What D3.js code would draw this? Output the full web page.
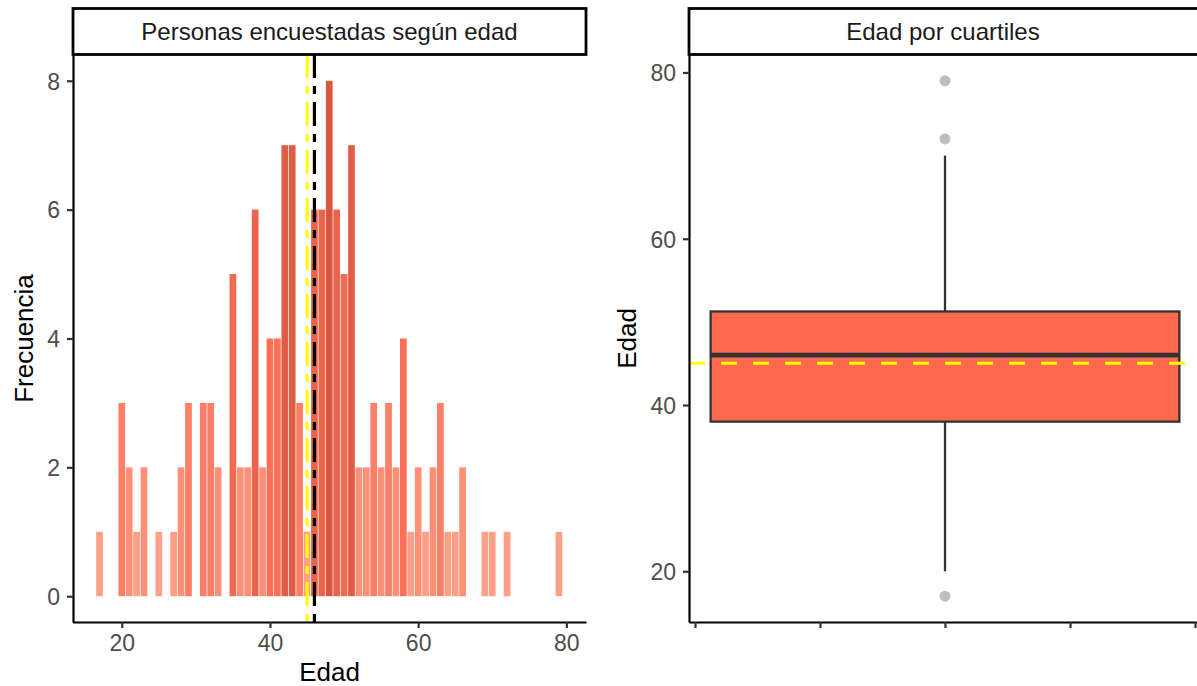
<!DOCTYPE html>
<html>
<head>
<meta charset="utf-8">
<script src="https://cdn.jsdelivr.net/npm/d3@7"></script>
<style>
  html, body { margin: 0; padding: 0; background: #ffffff; }
  svg { display: block; font-family: "Liberation Sans", Arial, Helvetica, sans-serif; }
</style>
</head>
<body>
<svg id="chart" width="1197" height="686"></svg>
<script>
// ---- data ----
const ages   = [17,20,21,22,23,25,27,28,29,31,32,33,35,36,37,38,39,40,41,42,43,44,45,46,47,48,49,50,51,52,53,54,55,56,57,58,59,60,61,62,63,64,65,66,69,70,72,79];
const counts = [1,3,2,1,2,1,1,2,3,3,3,2,5,2,2,6,2,4,4,7,7,3,1,6,6,8,6,5,7,2,2,3,2,3,2,4,1,2,1,2,3,1,1,2,1,1,1,1];
const histXTicks = [20, 40, 60, 80];
const histYTicks = [0, 2, 4, 6, 8];
const boxYTicks  = [20, 40, 60, 80];
const boxXTicks  = [-0.4, -0.2, 0, 0.2, 0.4];
const stripLeft  = "Personas encuestadas según edad";
const stripRight = "Edad por cuartiles";
const titleHistX = "Edad";
const titleHistY = "Frecuencia";
const titleBoxY  = "Edad";

// individual observations reconstructed from the frequency table
const obs = [];
ages.forEach((a, i) => { for (let k = 0; k < counts[i]; k++) obs.push(a); });
obs.sort(d3.ascending);
const mean = d3.mean(obs);
const median = d3.quantile(obs, 0.5);
const q1 = d3.quantile(obs, 0.25);
const q3 = d3.quantile(obs, 0.75);
const iqr = q3 - q1;
const loFence = q1 - 1.5 * iqr, hiFence = q3 + 1.5 * iqr;
const whiskLo = d3.min(obs.filter(v => v >= loFence));
const whiskHi = d3.max(obs.filter(v => v <= hiFence));
const outliers = Array.from(new Set(obs.filter(v => v < loFence || v > hiFence)));

const svg = d3.select("#chart");
const tickFont = 23, titleFont = 26, stripFont = 24;
const tickColor = "#4D4D4D";

// ---- LEFT PANEL: histogram ----
const P1 = { x0: 73, x1: 586, y0: 55, y1: 622 };
const x1 = d3.scaleLinear().domain([13.35, 82.65]).range([P1.x0 - 0.5, P1.x1]);
const y1 = d3.scaleLinear().domain([-0.4, 8.4]).range([P1.y1, P1.y0]);
const fill = d3.scaleLinear().domain([1, 4, 8]).range(["#FDA087", "#FE6F58", "#D6563F"]);

const g1 = svg.append("g");
g1.selectAll("rect.bar").data(ages.map((a, i) => ({ a, c: counts[i] })))
  .enter().append("rect").attr("class", "bar")
  .attr("x", d => x1(d.a - 0.5) + 0.35)
  .attr("width", d => x1(d.a + 0.5) - x1(d.a - 0.5) - 0.7)
  .attr("y", d => y1(d.c))
  .attr("height", d => y1(0) - y1(d.c))
  .attr("fill", d => fill(d.c));

// mean & median vertical lines (drawn bottom to top, twodash)
[[mean, "#FFFF00"], [median, "#000000"]].forEach(([v, col]) => {
  g1.append("line")
    .attr("x1", x1(v)).attr("x2", x1(v))
    .attr("y1", P1.y1).attr("y2", P1.y0)
    .attr("stroke", col).attr("stroke-width", 3.2)
    .attr("stroke-dasharray", "8,8,24,8");
});

// axes
const axL = g1.append("g").attr("transform", `translate(${P1.x0},0)`)
  .call(d3.axisLeft(y1).tickValues(histYTicks).tickSize(6).tickSizeOuter(0).tickPadding(7));
const axB = g1.append("g").attr("transform", `translate(0,${P1.y1})`)
  .call(d3.axisBottom(x1).tickValues(histXTicks).tickSize(6).tickSizeOuter(0).tickPadding(6));

// ---- RIGHT PANEL: boxplot ----
const P2 = { x0: 689, x1: 1202, y0: 55, y1: 622 };
const x2 = d3.scaleLinear().domain([-0.4096, 0.41]).range([P2.x0, P2.x0 + 0.8196 * 625]);
const y2 = d3.scaleLinear().domain([13.9, 82.1]).range([P2.y1, P2.y0]);
const g2 = svg.append("g");
const boxColor = "#333333";

g2.append("line").attr("x1", x2(0)).attr("x2", x2(0))
  .attr("y1", y2(whiskHi)).attr("y2", y2(q3))
  .attr("stroke", boxColor).attr("stroke-width", 2.3);
g2.append("line").attr("x1", x2(0)).attr("x2", x2(0))
  .attr("y1", y2(q1)).attr("y2", y2(whiskLo))
  .attr("stroke", boxColor).attr("stroke-width", 2.3);
g2.append("rect")
  .attr("x", x2(-0.375)).attr("width", x2(0.375) - x2(-0.375))
  .attr("y", y2(q3)).attr("height", y2(q1) - y2(q3))
  .attr("fill", "#FF6A4F").attr("stroke", boxColor).attr("stroke-width", 2.3);
g2.append("line").attr("x1", x2(-0.375)).attr("x2", x2(0.375))
  .attr("y1", y2(median)).attr("y2", y2(median))
  .attr("stroke", boxColor).attr("stroke-width", 4.6);
g2.selectAll("circle.out").data(outliers).enter().append("circle")
  .attr("class", "out")
  .attr("cx", x2(0)).attr("cy", d => y2(d)).attr("r", 5.5)
  .attr("fill", "#BEBEBE");
g2.append("line").attr("x1", P2.x0).attr("x2", P2.x1)
  .attr("y1", y2(mean)).attr("y2", y2(mean))
  .attr("stroke", "#FFFF00").attr("stroke-width", 3.2)
  .attr("stroke-dasharray", "16,16");

const axL2 = g2.append("g").attr("transform", `translate(${P2.x0},0)`)
  .call(d3.axisLeft(y2).tickValues(boxYTicks).tickSize(6).tickSizeOuter(0).tickPadding(7));
const axB2 = g2.append("g").attr("transform", `translate(0,${P2.y1})`)
  .call(d3.axisBottom(x2).tickValues(boxXTicks).tickSize(6).tickSizeOuter(0).tickFormat(""));

// axis styling
[axL, axB, axL2, axB2].forEach(ax => {
  ax.select(".domain").attr("stroke", "#000").attr("stroke-width", 2.2);
  ax.selectAll(".tick line").attr("stroke", "#333333").attr("stroke-width", 2.2);
  ax.selectAll(".tick text").attr("fill", tickColor)
    .style("font-size", tickFont + "px")
    .style("font-family", '"Liberation Sans", Arial, sans-serif');
});
axL.selectAll(".tick text").attr("dy", "0.36em");
axL2.selectAll(".tick text").attr("dy", "0.36em");
axB.selectAll(".tick text").attr("dy", "0.76em");

// strips
[[P1, stripLeft], [P2, stripRight]].forEach(([P, txt]) => {
  svg.append("rect").attr("x", P.x0).attr("y", 8.5)
    .attr("width", P.x1 - P.x0).attr("height", P.y0 - 9)
    .attr("fill", "#ffffff").attr("stroke", "#000").attr("stroke-width", 2.8);
  svg.append("text").attr("x", (P.x0 + Math.min(P.x1, 1197)) / 2)
    .attr("y", 32).attr("dy", "0.35em")
    .attr("text-anchor", "middle").attr("fill", "#1A1A1A")
    .style("font-size", stripFont + "px").text(txt);
});

// axis titles
svg.append("text").attr("x", (P1.x0 + P1.x1) / 2).attr("y", 681)
  .attr("text-anchor", "middle").attr("fill", "#000")
  .style("font-size", titleFont + "px").text(titleHistX);
svg.append("text").attr("transform", `translate(33,${(P1.y0 + P1.y1) / 2}) rotate(-90)`)
  .attr("text-anchor", "middle").attr("fill", "#000")
  .style("font-size", titleFont + "px").text(titleHistY);
svg.append("text").attr("transform", `translate(636,${(P2.y0 + P2.y1) / 2}) rotate(-90)`)
  .attr("text-anchor", "middle").attr("fill", "#000")
  .style("font-size", titleFont + "px").text(titleBoxY);
</script>
</body>
</html>
